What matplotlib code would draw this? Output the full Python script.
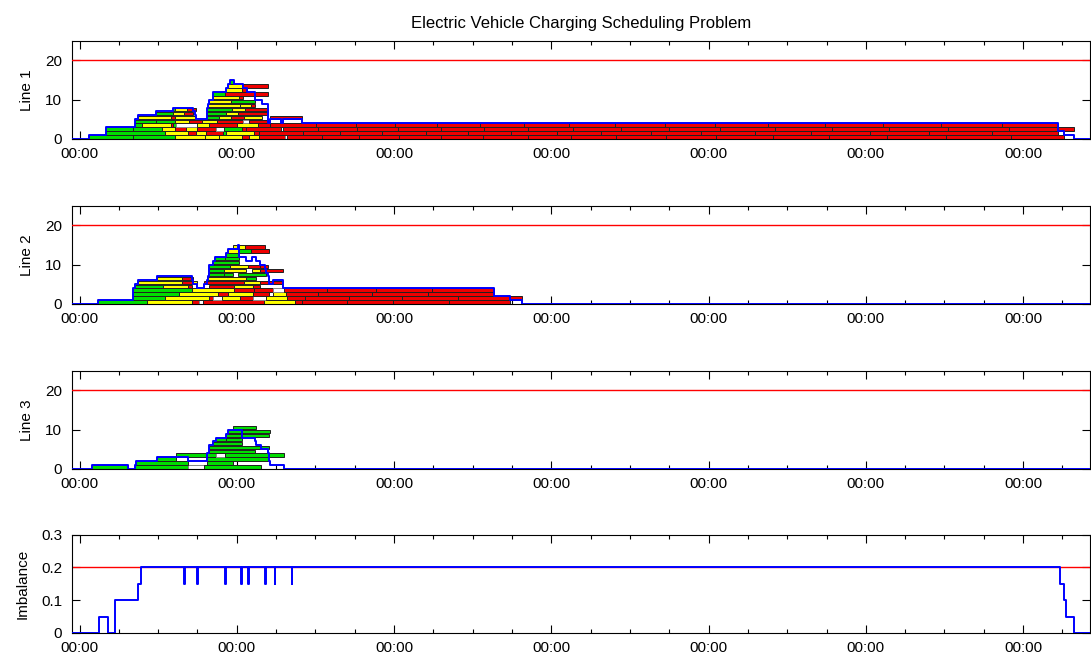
import matplotlib
matplotlib.use("Agg")
import matplotlib.pyplot as plt
from matplotlib.ticker import FuncFormatter, MultipleLocator

plt.rcParams["font.family"] = ["Liberation Sans", "DejaVu Sans"]

# time in hours from the first midnight
X_MIN, X_MAX = -1.15, 154.2

# G/Y/R = priority of the job, W = idle slot (drawn white)
JOB_COLORS = {"G": "#00dd00", "Y": "#ffff00", "R": "#ee0000", "W": "#ffffff"}

# one list per lane (row) of stacked charging jobs: (start, end, code)
line1_jobs = [
    [(1.5, 8.1, "G"), (8.1, 14.6, "G"), (14.6, 19.2, "Y"), (19.2, 21.3, "Y"), (21.3, 24.8, "Y"),
     (24.8, 25.9, "R"), (25.9, 27.4, "Y"), (27.4, 31.4, "R"), (31.4, 31.6, "W")],
    [(4.1, 13.1, "G"), (13.1, 16.5, "Y"), (16.5, 17.7, "R"), (17.7, 19.3, "Y"), (19.3, 21.9, "R"),
     (21.9, 22.3, "G"), (22.3, 26.6, "Y"), (26.6, 27.4, "R")],
    [(4.1, 8.1, "G"), (8.1, 12.6, "G"), (12.6, 14.6, "Y"), (14.6, 16.2, "R"), (16.2, 18.0, "Y"),
     (18.0, 20.8, "R"), (20.8, 22.1, "W"), (22.1, 24.8, "G"), (24.8, 25.4, "R"), (25.4, 30.7, "R")],
    [(8.4, 9.5, "G"), (9.5, 14.0, "Y"), (14.0, 14.3, "R"), (14.3, 14.7, "G"), (14.7, 17.9, "W"),
     (17.9, 19.8, "Y"), (19.8, 24.1, "R"), (24.1, 27.3, "Y"), (27.3, 29.1, "R")],
    [(8.5, 11.6, "G"), (11.6, 14.6, "G"), (14.6, 16.7, "Y"), (16.7, 18.7, "R"), (18.7, 21.0, "Y"),
     (21.0, 24.9, "R"), (24.9, 25.9, "W"), (25.9, 28.8, "R")],
    [(8.9, 13.9, "Y"), (13.9, 14.6, "R"), (14.6, 17.6, "Y"), (19.5, 21.3, "G"), (21.3, 23.1, "Y"),
     (23.1, 25.1, "R"), (25.1, 27.8, "Y"), (29.1, 34.0, "R")],
    [(11.7, 14.2, "G"), (14.2, 16.0, "Y"), (16.0, 17.3, "R"), (19.4, 22.3, "G"), (22.3, 24.2, "Y"),
     (24.2, 28.8, "R")],
    [(14.2, 14.6, "G"), (14.6, 16.4, "Y"), (16.4, 17.7, "R"), (19.5, 23.3, "G"), (23.3, 25.3, "Y"),
     (25.3, 28.8, "R")],
    [(19.6, 24.5, "Y"), (24.5, 26.1, "Y"), (26.1, 26.8, "R")],
    [(19.7, 23.1, "Y"), (23.1, 26.8, "G")],
    [(20.3, 24.4, "Y"), (24.4, 24.9, "R")],
    [(20.4, 22.2, "G"), (22.2, 28.8, "R")],
    [(22.4, 24.8, "Y"), (24.8, 25.6, "R")],
    [(22.6, 24.8, "Y"), (24.8, 28.7, "R")],
    [(23.0, 23.6, "G")],
]
# long low-priority jobs in the bottom lanes, given as consecutive boundaries
line1_tail = [
    [31.6, 37.0, 42.7, 48.7, 55.2, 61.6, 68.4, 75.0, 81.9, 89.5, 97.2, 105.8, 114.4, 123.2, 132.2, 142.1, 150.2],
    [27.4, 34.1, 39.8, 46.2, 52.8, 59.3, 65.9, 72.8, 79.6, 87.2, 94.9, 103.1, 111.7, 120.6, 129.7, 139.3, 149.4],
    [31.1, 36.4, 42.4, 48.6, 55.2, 61.8, 68.5, 75.3, 82.6, 89.9, 97.8, 106.1, 114.8, 123.6, 132.6, 141.8, 151.7],
    [29.1, 36.1, 42.2, 48.1, 54.5, 61.1, 67.9, 74.7, 81.7, 89.3, 97.0, 105.1, 113.7, 122.6, 131.5, 140.8, 149.4],
]

line2_jobs = [
    [(2.8, 10.3, "G"), (10.3, 17.2, "Y"), (17.2, 18.2, "R"), (18.2, 18.9, "W"), (18.9, 28.1, "R"),
     (28.1, 32.9, "Y")],
    [(8.2, 13.1, "G"), (13.1, 19.8, "Y"), (19.8, 20.4, "R"), (20.4, 21.8, "W"), (21.8, 24.5, "Y"),
     (24.5, 26.5, "R"), (26.5, 28.4, "W"), (28.4, 31.6, "Y")],
    [(8.2, 15.2, "G"), (15.2, 21.1, "Y"), (21.1, 22.6, "R"), (22.6, 26.5, "Y"), (26.5, 28.9, "R"),
     (29.5, 31.5, "Y")],
    [(8.2, 17.2, "G"), (17.2, 23.6, "Y"), (23.6, 26.6, "R"), (26.6, 29.5, "R"), (29.5, 31.2, "W")],
    [(8.5, 12.7, "G"), (12.7, 16.6, "Y"), (16.6, 17.1, "R"), (19.8, 23.6, "R"), (23.6, 26.5, "Y"),
     (26.5, 27.6, "R")],
    [(8.9, 15.6, "Y"), (15.6, 17.2, "R"), (17.2, 18.0, "Y"), (19.0, 25.1, "R"), (25.1, 27.5, "Y"),
     (27.5, 28.9, "R"), (28.9, 31.1, "R")],
    [(11.8, 15.6, "Y"), (15.6, 17.3, "R"), (19.5, 25.4, "Y"), (25.4, 26.9, "G")],
    [(19.6, 22.0, "G"), (22.0, 23.4, "G"), (24.2, 28.5, "G")],
    [(19.7, 22.0, "G"), (22.0, 25.4, "Y"), (26.3, 27.5, "Y"), (27.5, 31.1, "R")],
    [(19.8, 23.0, "G"), (23.0, 25.7, "Y"), (25.7, 27.5, "R"), (27.5, 28.8, "R")],
    [(20.4, 24.3, "G")],
    [(20.6, 22.2, "G"), (22.2, 24.3, "G")],
    [(22.4, 24.3, "G")],
    [(22.6, 24.3, "Y"), (24.3, 26.2, "G"), (26.2, 28.9, "R")],
    [(23.4, 25.2, "Y"), (25.2, 28.3, "R")],
]
line2_tail = [
    [32.9, 33.9, 40.8, 47.8, 56.4, 65.7],
    [31.6, 34.4, 41.2, 49.2, 57.8, 65.7, 67.5],
    [31.5, 36.4, 44.7, 53.2, 63.2],
    [31.2, 37.8, 45.3, 53.8, 63.2],
]

line3_jobs = [
    [(1.9, 7.4, "G"), (8.5, 16.5, "G"), (16.5, 19.0, "W"), (19.0, 27.7, "G")],
    [(8.6, 16.5, "G"), (19.5, 23.4, "G")],
    [(11.8, 14.7, "G"), (19.5, 28.8, "G")],
    [(14.7, 19.5, "G"), (19.5, 20.8, "G"), (20.8, 22.2, "W"), (22.2, 31.2, "G")],
    [(19.7, 26.8, "G")],
    [(19.8, 27.7, "G"), (27.7, 28.9, "G")],
    [(20.3, 24.8, "G")],
    [(20.8, 22.3, "G"), (22.3, 24.8, "G")],
    [(22.3, 24.7, "G"), (24.7, 28.9, "G")],
    [(22.7, 24.7, "G"), (24.7, 29.0, "G")],
    [(23.4, 27.0, "G")],
]
line3_tail = []

line_limit = 20
imbalance_limit = 0.2

imbalance_t = [X_MIN, 3.0, 4.3, 5.4, 8.9, 9.4, 16.0, 16.1, 18.0, 18.1, 22.2, 22.3, 24.7, 24.8,
               25.7, 25.8, 28.3, 28.4, 29.8, 29.9, 32.4, 32.5, 149.6, 150.3, 150.6, 151.7, X_MAX]
imbalance_v = [0, 0.05, 0, 0.1, 0.15, 0.2, 0.15, 0.2, 0.15, 0.2, 0.15, 0.2, 0.15, 0.2,
               0.15, 0.2, 0.15, 0.2, 0.15, 0.2, 0.15, 0.2, 0.15, 0.1, 0.05, 0, 0]


def all_jobs(jobs, tail):
    out = []
    for row, lane in enumerate(jobs):
        for start, end, code in lane:
            out.append((row, start, end, code))
    for row, bounds in enumerate(tail):
        for start, end in zip(bounds[:-1], bounds[1:]):
            out.append((row, start, end, "R"))
    return out


def load_profile(jobs):
    # number of occupied slots at each moment
    edges = sorted({X_MIN, X_MAX} | {j[1] for j in jobs} | {j[2] for j in jobs})
    levels = []
    for a, b in zip(edges[:-1], edges[1:]):
        mid = 0.5 * (a + b)
        levels.append(sum(1 for j in jobs if j[1] <= mid < j[2]))
    levels.append(0)
    return edges, levels


def style_axis(ax):
    ax.set_xlim(X_MIN, X_MAX)
    ax.xaxis.set_major_locator(MultipleLocator(24))
    ax.xaxis.set_minor_locator(MultipleLocator(6))
    ax.xaxis.set_major_formatter(FuncFormatter(lambda v, p: f"{int(round(v)) % 24:02d}:00"))
    ax.tick_params(which="both", direction="in", top=True, right=True, labelsize=11)
    ax.tick_params(which="major", length=6, width=0.8)
    ax.tick_params(which="minor", length=3, width=0.8)
    ax.tick_params(axis="x", pad=6)
    ax.tick_params(axis="y", pad=7)
    for spine in ax.spines.values():
        spine.set_linewidth(0.8)


fig = plt.figure(figsize=(10.91, 6.68), dpi=100)
left, width, height = 0.066, 0.933, 0.147
bottoms = [0.792, 0.545, 0.298, 0.0525]

panels = [("Line 1", line1_jobs, line1_tail), ("Line 2", line2_jobs, line2_tail),
          ("Line 3", line3_jobs, line3_tail)]

for (label, jobs, tail), bottom in zip(panels, bottoms[:3]):
    ax = fig.add_axes([left, bottom, width, height])
    flat = all_jobs(jobs, tail)
    ax.barh([j[0] + 0.5 for j in flat], [j[2] - j[1] for j in flat], left=[j[1] for j in flat],
            height=0.88, color=[JOB_COLORS[j[3]] for j in flat],
            edgecolor=["#888888" if j[3] == "W" else "#202020" for j in flat],
            linewidth=0.7, zorder=2)
    t, lvl = load_profile(flat)
    ax.step(t, lvl, where="post", color="#0000ff", linewidth=1.4, zorder=3)
    ax.axhline(line_limit, color="#ff0000", linewidth=1.0, zorder=3)
    ax.set_ylim(0, 25)
    ax.set_yticks([0, 10, 20])
    ax.set_ylabel(label, fontsize=11, labelpad=8)
    style_axis(ax)
    if label == "Line 1":
        ax.set_title("Electric Vehicle Charging Scheduling Problem", fontsize=12, pad=9)

ax = fig.add_axes([left, bottoms[3], width, height])
ax.step(imbalance_t, imbalance_v, where="post", color="#0000ff", linewidth=1.4, zorder=3)
ax.axhline(imbalance_limit, color="#ff0000", linewidth=1.0, zorder=2)
ax.set_ylim(0, 0.3)
ax.set_yticks([0, 0.1, 0.2, 0.3])
ax.set_yticklabels(["0", "0.1", "0.2", "0.3"])
ax.set_ylabel("Imbalance", fontsize=11, labelpad=8)
style_axis(ax)

fig.savefig("out.png", dpi=100)
